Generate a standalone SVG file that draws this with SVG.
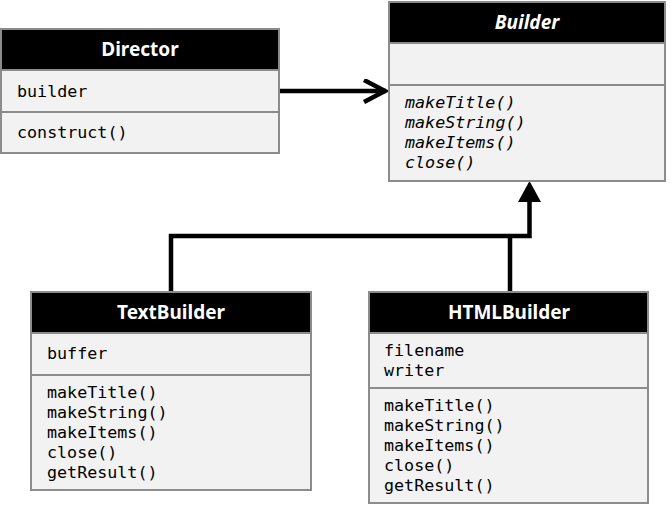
<svg xmlns="http://www.w3.org/2000/svg" width="671" height="506" viewBox="0 0 671 506">
<style>
.box{fill:#f2f2f2;stroke:#8c8c8c;stroke-width:2}
.hdr{fill:#000;stroke:#8c8c8c;stroke-width:2}
.title{font-family:"Noto Sans","Open Sans",sans-serif;font-weight:bold;font-size:19px;fill:#fff;text-anchor:middle}
.mono{font-family:"DejaVu Sans Mono",monospace;font-size:16.7px;fill:#000}
.it{font-style:italic}
.conn{fill:none;stroke:#000;stroke-width:4.5}
</style>
<defs>
<marker id="open" markerUnits="userSpaceOnUse" markerWidth="30" markerHeight="30" refX="24" refY="12" orient="auto">
<path d="M2,1 L23,12 L2,23" fill="none" stroke="#000" stroke-width="4.5"/>
</marker>
</defs>
<g id="connectors">
<line class="conn" x1="280" y1="91" x2="386" y2="91" marker-end="url(#open)"/>
<path class="conn" d="M171,292 V236 H529.5 V200"/>
<path class="conn" d="M510,292 V236"/>
<polygon points="529.5,181 518,202 541,202" fill="#000"/>
</g>
<g id="Director">
<rect class="hdr" x="1" y="29" width="278" height="41"/>
<rect class="box" x="1" y="70" width="278" height="42"/>
<rect class="box" x="1" y="112" width="278" height="41"/>
<text class="title" x="140" y="56">Director</text>
<text class="mono" x="17" y="97">builder</text>
<text class="mono" x="17" y="138">construct()</text>
</g>
<g id="Builder">
<rect class="hdr" x="389" y="2" width="276" height="41"/>
<rect class="box" x="389" y="43" width="276" height="42"/>
<rect class="box" x="389" y="85" width="276" height="96"/>
<text class="title it" x="527" y="29">Builder</text>
<text class="mono it" x="405" y="108">makeTitle()</text>
<text class="mono it" x="405" y="128">makeString()</text>
<text class="mono it" x="405" y="148">makeItems()</text>
<text class="mono it" x="405" y="168">close()</text>
</g>
<g id="TextBuilder">
<rect class="hdr" x="31" y="292" width="280" height="41"/>
<rect class="box" x="31" y="333" width="280" height="42"/>
<rect class="box" x="31" y="375" width="280" height="115"/>
<text class="title" x="171" y="319">TextBuilder</text>
<text class="mono" x="47" y="359">buffer</text>
<text class="mono" x="47" y="398">makeTitle()</text>
<text class="mono" x="47" y="418">makeString()</text>
<text class="mono" x="47" y="438">makeItems()</text>
<text class="mono" x="47" y="458">close()</text>
<text class="mono" x="47" y="478">getResult()</text>
</g>
<g id="HTMLBuilder">
<rect class="hdr" x="369" y="292" width="279" height="41"/>
<rect class="box" x="369" y="333" width="279" height="55"/>
<rect class="box" x="369" y="388" width="279" height="115"/>
<text class="title" x="509" y="319">HTMLBuilder</text>
<text class="mono" x="384" y="356">filename</text>
<text class="mono" x="384" y="376">writer</text>
<text class="mono" x="384" y="411">makeTitle()</text>
<text class="mono" x="384" y="431">makeString()</text>
<text class="mono" x="384" y="451">makeItems()</text>
<text class="mono" x="384" y="471">close()</text>
<text class="mono" x="384" y="491">getResult()</text>
</g>
</svg>
